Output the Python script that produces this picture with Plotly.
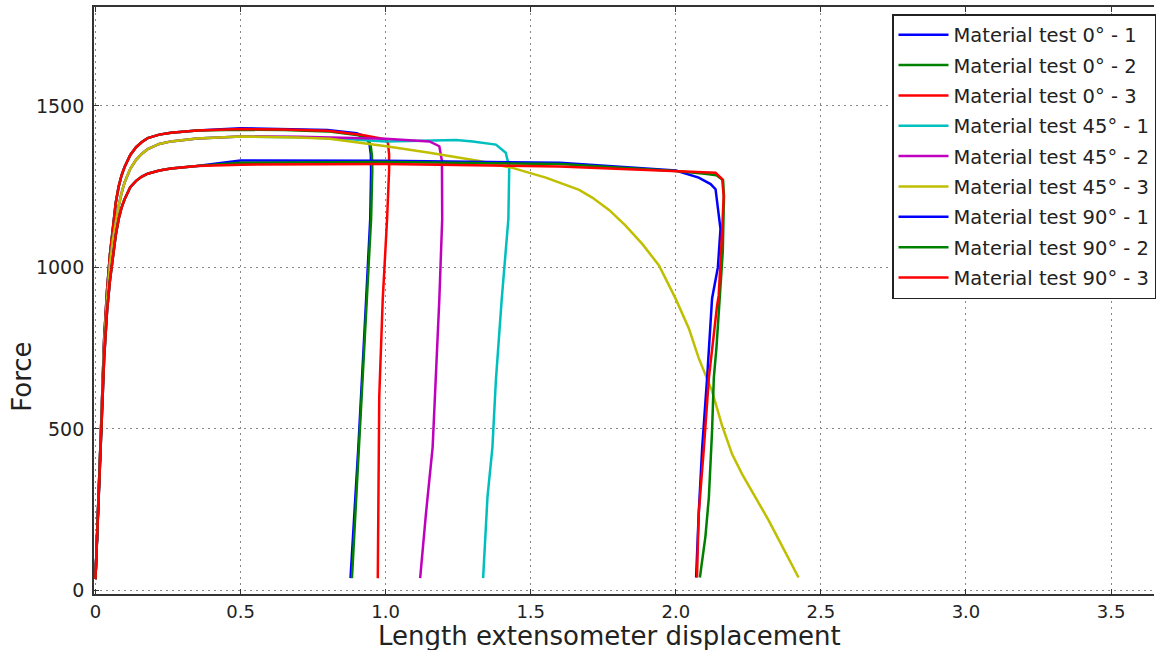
import plotly.graph_objects as go

# ---------------- data ----------------
names = [
    "Material test 0° - 1", "Material test 0° - 2", "Material test 0° - 3",
    "Material test 45° - 1", "Material test 45° - 2", "Material test 45° - 3",
    "Material test 90° - 1", "Material test 90° - 2", "Material test 90° - 3",
]
colors = ["#0000ff", "#008000", "#ff0000", "#00bfbf", "#bf00bf", "#bfbf00",
          "#0000ff", "#008000", "#ff0000"]

# elastic rise + knee, shared shape per orientation
rise_x = [0, 0.01, 0.02, 0.03, 0.04, 0.05, 0.06, 0.07, 0.08, 0.09, 0.10, 0.12, 0.14, 0.16, 0.18, 0.22, 0.26, 0.35]
rise_f_0 = [35, 260, 520, 780, 930, 1040, 1130, 1200, 1250, 1285, 1310, 1348, 1372, 1388, 1400, 1411, 1417, 1424]
rise_f_45 = [35, 255, 505, 750, 900, 1010, 1085, 1140, 1190, 1230, 1262, 1305, 1333, 1352, 1366, 1382, 1390, 1399]
rise_f_90 = [35, 250, 500, 720, 865, 960, 1030, 1100, 1150, 1185, 1210, 1248, 1268, 1281, 1290, 1300, 1306, 1314]

# 0 deg - 1 (after the rise)
x_0_1 = [0.5, 0.65, 0.8, 0.9, 0.93, 0.944, 0.949, 0.950, 0.947, 0.93, 0.906, 0.879]
f_0_1 = [1431, 1429, 1425, 1415, 1405, 1385, 1350, 1300, 1150, 850, 443, 38]
# 0 deg - 2
x_0_2 = [0.5, 0.65, 0.8, 0.9, 0.935, 0.948, 0.953, 0.954, 0.95, 0.932, 0.908, 0.884]
f_0_2 = [1426, 1425, 1421, 1410, 1400, 1380, 1345, 1300, 1150, 850, 443, 38]
# 0 deg - 3
x_0_3 = [0.5, 0.65, 0.8, 0.92, 1.0, 1.008, 1.012, 1.012, 1.005, 0.99, 0.978, 0.974, 0.973]
f_0_3 = [1428, 1427, 1423, 1410, 1396, 1385, 1350, 1300, 1150, 900, 600, 300, 38]
# 45 deg - 1
x_45_1 = [0.5, 0.7, 0.85, 1.0, 1.128, 1.243, 1.3, 1.38, 1.414, 1.426, 1.423, 1.40, 1.38, 1.368, 1.351, 1.336]
f_45_1 = [1405, 1403, 1398, 1390, 1393, 1394, 1390, 1380, 1355, 1310, 1150, 900, 650, 443, 289, 38]
# 45 deg - 2
x_45_2 = [0.5, 0.7, 0.85, 1.0, 1.151, 1.185, 1.194, 1.195, 1.185, 1.172, 1.162, 1.139, 1.119]
f_45_2 = [1405, 1404, 1402, 1398, 1390, 1375, 1330, 1150, 900, 650, 443, 238, 38]
# 45 deg - 3
x_45_3 = [0.5, 0.7, 0.807, 1.002, 1.151, 1.323, 1.437, 1.552, 1.598, 1.667, 1.712, 1.77, 1.827, 1.885, 1.942,
          1.999, 2.045, 2.079, 2.125, 2.16, 2.194, 2.228, 2.32, 2.423]
f_45_3 = [1405, 1402, 1398, 1375, 1355, 1329, 1308, 1278, 1263, 1240, 1216, 1178, 1129, 1072, 1006,
          904, 811, 719, 617, 509, 422, 361, 217, 40]
# 90 deg - 1
x_90_1 = [0.5, 1.0, 1.6, 2.0, 2.079, 2.12, 2.137, 2.148, 2.154, 2.145, 2.125, 2.108, 2.091, 2.079, 2.07]
f_90_1 = [1331, 1330, 1324, 1300, 1278, 1258, 1242, 1170, 1119, 1000, 904, 658, 443, 238, 40]
# 90 deg - 2
x_90_2 = [0.5, 1.0, 1.6, 2.0, 2.1, 2.14, 2.163, 2.166, 2.162, 2.152, 2.14, 2.131, 2.125, 2.114, 2.102, 2.083]
f_90_2 = [1324, 1326, 1320, 1298, 1290, 1285, 1270, 1220, 1050, 900, 750, 658, 494, 289, 166, 40]
# 90 deg - 3
x_90_3 = [0.5, 1.0, 1.6, 2.0, 2.1, 2.137, 2.16, 2.165, 2.16, 2.148, 2.142, 2.114, 2.097, 2.079, 2.073]
f_90_3 = [1318, 1320, 1312, 1298, 1296, 1293, 1273, 1221, 1119, 914, 880, 658, 443, 238, 40]

xs = [rise_x + x_0_1, rise_x + x_0_2, rise_x + x_0_3,
      rise_x + x_45_1, rise_x + x_45_2, rise_x + x_45_3,
      rise_x + x_90_1, rise_x + x_90_2, rise_x + x_90_3]
fs = [rise_f_0 + f_0_1, rise_f_0 + f_0_2, rise_f_0 + f_0_3,
      rise_f_45 + f_45_1, rise_f_45 + f_45_2, rise_f_45 + f_45_3,
      rise_f_90 + f_90_1, rise_f_90 + f_90_2, rise_f_90 + f_90_3]

x_tick_vals = [0, 0.5, 1.0, 1.5, 2.0, 2.5, 3.0, 3.5]
x_tick_text = ["0", "0.5", "1.0", "1.5", "2.0", "2.5", "3.0", "3.5"]
y_tick_vals = [0, 500, 1000, 1500]
y_tick_text = ["0", "500", "1000", "1500"]

x_title = "Length extensometer displacement"
y_title = "Force"

# ---------------- figure ----------------
FONT = "DejaVu Sans"
fig = go.Figure()
for i, (nm, c, xv, fv) in enumerate(zip(names, colors, xs, fs)):
    fig.add_trace(go.Scatter(
        x=xv, y=fv, mode="lines", name=nm, legendgroup=f"g{i}",
        line=dict(color=c, width=2.5),
    ))

fig.update_layout(
    width=1156, height=650,
    margin=dict(l=94, r=0, t=7, b=56),
    paper_bgcolor="white", plot_bgcolor="white",
    font=dict(family=FONT, color="#222"),
    showlegend=True,
    legend=dict(
        x=1.002, y=0.988, xanchor="right", yanchor="top",
        bgcolor="white", bordercolor="#222", borderwidth=1.5,
        font=dict(family=FONT, size=19.5, color="#222"),
        tracegroupgap=2, itemwidth=50,
    ),
    xaxis=dict(
        range=[-0.005, 3.648], tickvals=x_tick_vals, ticktext=x_tick_text,
        showgrid=True, gridcolor="#888", griddash="2px,4px", gridwidth=1.3,
        zeroline=False, showline=True, linecolor="#333", linewidth=1.8,
        mirror="ticks", ticks="inside", ticklen=5, tickcolor="#333",
        tickfont=dict(family=FONT, size=18, color="#222"),
    ),
    yaxis=dict(
        range=[-11, 1806], tickvals=y_tick_vals, ticktext=y_tick_text,
        showgrid=True, gridcolor="#888", griddash="2px,4px", gridwidth=1.3,
        zeroline=False, showline=True, linecolor="#333", linewidth=1.8,
        ticks="inside", ticklen=5, tickcolor="#333", ticklabelstandoff=4,
        tickfont=dict(family=FONT, size=19, color="#222"),
    ),
    annotations=[
        dict(text=x_title, xref="paper", yref="paper", x=0.4864, y=-0.0715,
             xanchor="center", yanchor="middle", showarrow=False,
             font=dict(family=FONT, size=26, color="#222")),
        dict(text=y_title, xref="paper", yref="paper", x=-0.068, y=0.37,
             xanchor="center", yanchor="middle", showarrow=False, textangle=-90,
             font=dict(family=FONT, size=26, color="#222")),
    ],
)

fig.write_html("out.html")
